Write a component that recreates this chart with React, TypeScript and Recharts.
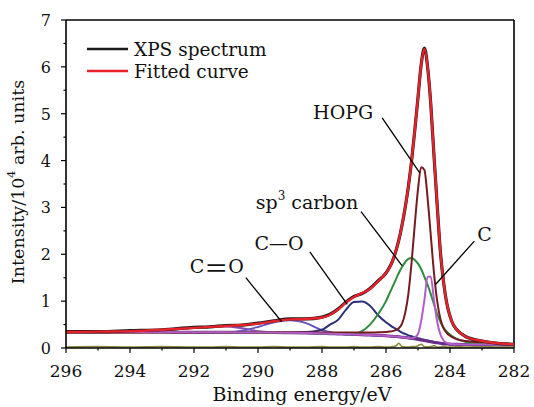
import React from "react";
import {
  Legend,
  Line,
  LineChart,
  ReferenceDot,
  ReferenceLine,
  XAxis,
  YAxis,
} from "recharts";

// binding energy grid (eV), denser around the C 1s peak
const energy = [
  296, 295, 294, 293, 292, 291.5, 291, 290.5, 290, 289.5, 289, 288.5, 288, 287.75, 287.5, 287.25,
  287, 286.75, 286.5, 286.25, 286, 285.9, 285.8, 285.7, 285.6, 285.5, 285.4, 285.3, 285.2, 285.1,
  285, 284.9, 284.8, 284.7, 284.6, 284.5, 284.4, 284.3, 284.2, 284.1, 284, 283.9, 283.8, 283.5, 283,
  282.5, 282,
];

const spectrum = [
  0.35, 0.35, 0.37, 0.39, 0.44, 0.45, 0.48, 0.49, 0.53, 0.58, 0.62, 0.62, 0.66, 0.72, 0.83, 0.98,
  1.1, 1.16, 1.27, 1.43, 1.6, 1.71, 1.85, 2.05, 2.3, 2.62, 3.0, 3.45, 4.0, 4.65, 5.35, 6.05, 6.4,
  6.0, 5.2, 4.1, 3.05, 2.05, 1.4, 0.95, 0.68, 0.5, 0.4, 0.24, 0.15, 0.1, 0.08,
];

const fitted = [
  0.34, 0.35, 0.36, 0.39, 0.43, 0.45, 0.47, 0.49, 0.52, 0.57, 0.61, 0.62, 0.65, 0.71, 0.82, 0.97,
  1.09, 1.17, 1.26, 1.42, 1.6, 1.7, 1.85, 2.05, 2.3, 2.62, 3.0, 3.45, 4.0, 4.65, 5.35, 6.05, 6.38,
  6.0, 5.2, 4.1, 3.05, 2.05, 1.4, 0.95, 0.68, 0.5, 0.4, 0.24, 0.15, 0.1, 0.08,
];

const hopg = [
  0.33, 0.33, 0.33, 0.33, 0.33, 0.33, 0.33, 0.33, 0.33, 0.33, 0.33, 0.33, 0.33, 0.33, 0.33, 0.33,
  0.33, 0.33, 0.33, 0.335, 0.34, 0.35, 0.36, 0.38, 0.42, 0.52, 0.75, 1.16, 1.83, 2.64, 3.39, 3.86,
  3.8, 3.2, 2.4, 1.6, 1.0, 0.62, 0.42, 0.32, 0.26, 0.22, 0.19, 0.15, 0.12, 0.1, 0.09,
];

const sp3 = [
  0.34, 0.34, 0.34, 0.34, 0.335, 0.335, 0.335, 0.33, 0.33, 0.33, 0.325, 0.32, 0.31, 0.305, 0.3,
  0.295, 0.3, 0.36, 0.5, 0.72, 1.0, 1.15, 1.3, 1.45, 1.6, 1.73, 1.83, 1.9, 1.92, 1.88, 1.8, 1.68,
  1.52, 1.35, 1.15, 0.93, 0.72, 0.56, 0.43, 0.35, 0.29, 0.24, 0.2, 0.13, 0.09, 0.075, 0.07,
];

const cSingleO = [
  0.34, 0.34, 0.34, 0.34, 0.335, 0.335, 0.335, 0.33, 0.33, 0.33, 0.33, 0.34, 0.39, 0.5, 0.6, 0.82,
  0.98, 0.99, 0.9, 0.7, 0.55, 0.5, 0.45, 0.41, 0.37, 0.33, 0.3, 0.27, 0.25, 0.23, 0.21, 0.19,
  0.175, 0.16, 0.145, 0.13, 0.115, 0.105, 0.095, 0.088, 0.082, 0.08, 0.078, 0.076, 0.074, 0.072,
  0.07,
];

const cDoubleO = [
  0.34, 0.34, 0.34, 0.34, 0.335, 0.335, 0.34, 0.37, 0.45, 0.55, 0.59, 0.53, 0.38, 0.34, 0.31, 0.3,
  0.29, 0.285, 0.275, 0.27, 0.26, 0.255, 0.25, 0.245, 0.24, 0.23, 0.225, 0.215, 0.205, 0.195,
  0.185, 0.17, 0.16, 0.145, 0.135, 0.12, 0.11, 0.1, 0.09, 0.085, 0.08, 0.08, 0.078, 0.076, 0.074,
  0.072, 0.07,
];

const shakeUp = [
  0.34, 0.34, 0.35, 0.38, 0.43, 0.455, 0.46, 0.42, 0.36, 0.335, 0.325, 0.32, 0.31, 0.305, 0.3,
  0.295, 0.29, 0.285, 0.275, 0.27, 0.26, 0.255, 0.25, 0.245, 0.24, 0.23, 0.225, 0.215, 0.205,
  0.195, 0.185, 0.17, 0.16, 0.145, 0.135, 0.12, 0.11, 0.1, 0.09, 0.085, 0.08, 0.08, 0.078, 0.076,
  0.074, 0.072, 0.07,
];

const cPeak = [
  0.34, 0.34, 0.34, 0.34, 0.335, 0.335, 0.335, 0.33, 0.33, 0.33, 0.325, 0.32, 0.31, 0.305, 0.3,
  0.295, 0.29, 0.285, 0.275, 0.27, 0.26, 0.255, 0.25, 0.245, 0.24, 0.23, 0.225, 0.215, 0.21, 0.23,
  0.3, 0.58, 1.02, 1.52, 1.52, 1.02, 0.56, 0.29, 0.16, 0.11, 0.09, 0.08, 0.078, 0.076, 0.074,
  0.072, 0.07,
];

const background = [
  0.34, 0.34, 0.34, 0.34, 0.335, 0.335, 0.335, 0.33, 0.33, 0.33, 0.325, 0.32, 0.31, 0.305, 0.3,
  0.295, 0.29, 0.285, 0.275, 0.27, 0.26, 0.255, 0.25, 0.245, 0.24, 0.23, 0.225, 0.215, 0.205,
  0.195, 0.185, 0.17, 0.16, 0.145, 0.135, 0.12, 0.11, 0.1, 0.09, 0.085, 0.08, 0.08, 0.078, 0.076,
  0.074, 0.072, 0.07,
];

const residual = [
  0.02, 0.03, 0.02, 0.03, 0.02, 0.02, 0.03, 0.02, 0.02, 0.03, 0.02, 0.02, 0.03, 0.02, 0.02, 0.02,
  0.03, 0.02, 0.02, 0.03, 0.02, 0.02, 0.03, 0.04, 0.1, 0.03, 0.02, 0.02, 0.03, 0.03, 0.05, 0.08,
  0.03, 0.02, 0.03, 0.05, 0.02, 0.02, 0.04, 0.02, 0.02, 0.02, 0.03, 0.02, 0.03, 0.02, 0.02,
];

const xTicks = [296, 295, 294, 293, 292, 291, 290, 289, 288, 287, 286, 285, 284, 283, 282];
const xLabels = [296, 294, 292, 290, 288, 286, 284, 282];
const yTicks = [0, 0.5, 1, 1.5, 2, 2.5, 3, 3.5, 4, 4.5, 5, 5.5, 6, 6.5, 7];
const yLabels = [0, 1, 2, 3, 4, 5, 6, 7];

const data = energy.map((e, i) => ({
  e,
  spectrum: spectrum[i],
  fitted: fitted[i],
  hopg: hopg[i],
  sp3: sp3[i],
  cSingleO: cSingleO[i],
  cDoubleO: cDoubleO[i],
  shakeUp: shakeUp[i],
  cPeak: cPeak[i],
  background: background[i],
  residual: residual[i],
}));

const FONT = "DejaVu Serif";

function XTick({ x, y, payload }: any) {
  const major = xLabels.includes(payload.value);
  return (
    <g>
      <line x1={x} x2={x} y1={y} y2={y + (major ? 5 : 2.5)} stroke="#000" strokeWidth={1.2} />
      {major && (
        <text x={x} y={y + 29} textAnchor="middle" fontSize={17} fontFamily={FONT} fill="#111">
          {payload.value}
        </text>
      )}
    </g>
  );
}

function YTick({ x, y, payload }: any) {
  const major = yLabels.includes(payload.value);
  return (
    <g>
      <line x1={x} x2={x - (major ? 5 : 2.5)} y1={y} y2={y} stroke="#000" strokeWidth={1.2} />
      {major && (
        <text x={x - 15} y={y + 6} textAnchor="end" fontSize={16} fontFamily={FONT} fill="#111">
          {payload.value}
        </text>
      )}
    </g>
  );
}

function label(text: React.ReactNode) {
  return (p: any) => (
    <text
      x={p.cx}
      y={p.cy}
      textAnchor="middle"
      dominantBaseline="central"
      fontSize={19}
      fontFamily={FONT}
      fill="#111"
    >
      {text}
    </text>
  );
}

function LegendBox() {
  const rows = [
    { name: "XPS spectrum", color: "#1a1a1a" },
    { name: "Fitted curve", color: "#e8222a" },
  ];
  return (
    <div style={{ fontFamily: FONT, fontSize: 18.5, color: "#111" }}>
      {rows.map((r) => (
        <div key={r.name} style={{ display: "flex", alignItems: "center", height: 22 }}>
          <svg width={47} height={22}>
            <line x1={0} x2={41} y1={11} y2={11} stroke={r.color} strokeWidth={2.5} />
          </svg>
          <span>{r.name}</span>
        </div>
      ))}
    </div>
  );
}

const leader = { stroke: "#000", strokeWidth: 1.3 };

export default function App() {
  return (
    <div style={{ position: "absolute", left: 0, top: 0, background: "#fff" }}>
      <LineChart width={534} height={407} data={data} margin={{ top: 20, right: 20, bottom: 0, left: 0 }}>
        <XAxis
          dataKey="e"
          type="number"
          domain={[282, 296]}
          reversed
          ticks={xTicks}
          interval={0}
          tick={<XTick />}
          tickLine={false}
          tickSize={0}
          tickMargin={0}
          height={59}
          axisLine={{ stroke: "#000", strokeWidth: 1.6 }}
          label={{
            content: () => (
              <text x={302} y={401} textAnchor="middle" fontSize={19} fontFamily={FONT} fill="#111">
                Binding energy/eV
              </text>
            ),
          }}
        />
        <YAxis
          type="number"
          domain={[0, 7]}
          ticks={yTicks}
          interval={0}
          tick={<YTick />}
          tickLine={false}
          tickSize={0}
          tickMargin={0}
          width={66}
          axisLine={{ stroke: "#000", strokeWidth: 1.6 }}
          label={{
            content: () => (
              <text
                x={18}
                y={182}
                transform="rotate(-90 18 182)"
                textAnchor="middle"
                dominantBaseline="central"
                fontSize={17.5}
                fontFamily={FONT}
                fill="#111"
              >
                Intensity/10
                <tspan dy={-7} fontSize={11}>4</tspan>
                <tspan dy={7}> arb. units</tspan>
              </text>
            ),
          }}
        />
        <ReferenceLine x={282} stroke="#000" strokeWidth={1.6} />
        <ReferenceLine y={7} stroke="#000" strokeWidth={1.6} />

        <Line dataKey="residual" type="monotone" stroke="#8c8a3a" strokeWidth={1.6} dot={false} isAnimationActive={false} />
        <Line dataKey="shakeUp" type="monotone" stroke="#8a4aa8" strokeWidth={2} dot={false} isAnimationActive={false} />
        <Line dataKey="cDoubleO" type="monotone" stroke="#6656c0" strokeWidth={2} dot={false} isAnimationActive={false} />
        <Line dataKey="cSingleO" type="monotone" stroke="#2c2f78" strokeWidth={2} dot={false} isAnimationActive={false} />
        <Line dataKey="background" type="monotone" stroke="#6b2d8a" strokeWidth={3} dot={false} isAnimationActive={false} />
        <Line dataKey="sp3" type="monotone" stroke="#2e8b3e" strokeWidth={2} dot={false} isAnimationActive={false} />
        <Line dataKey="hopg" type="monotone" stroke="#741c1f" strokeWidth={2} dot={false} isAnimationActive={false} />
        <Line dataKey="cPeak" type="monotone" stroke="#b35ec6" strokeWidth={2} dot={false} isAnimationActive={false} />
        <Line dataKey="spectrum" type="monotone" stroke="#1a1a1a" strokeWidth={3.2} dot={false} isAnimationActive={false} />
        <Line dataKey="fitted" type="monotone" stroke="#e8222a" strokeWidth={2.4} dot={false} isAnimationActive={false} />

        <ReferenceLine segment={[{ x: 286.12, y: 4.91 }, { x: 284.94, y: 3.73 }]} {...leader} />
        <ReferenceLine segment={[{ x: 286.78, y: 2.91 }, { x: 285.5, y: 1.76 }]} {...leader} />
        <ReferenceLine segment={[{ x: 283.24, y: 2.28 }, { x: 284.46, y: 1.35 }]} {...leader} />
        <ReferenceLine segment={[{ x: 288.38, y: 2.05 }, { x: 287.21, y: 0.93 }]} {...leader} />
        <ReferenceLine segment={[{ x: 290.38, y: 1.5 }, { x: 289.26, y: 0.56 }]} {...leader} />

        <ReferenceDot x={287.34} y={5.04} r={0} shape={label("HOPG")} />
        <ReferenceDot
          x={288.47}
          y={3.11}
          r={0}
          shape={label(
            <>
              sp<tspan dy={-6} fontSize={12}>3</tspan>
              <tspan dy={6}> carbon</tspan>
            </>
          )}
        />
        <ReferenceDot x={282.92} y={2.43} r={0} shape={label("C")} />
        <ReferenceDot x={289.34} y={2.24} r={0} shape={label("C\u2014O")} />
        <ReferenceDot
          x={291.29}
          y={1.745}
          r={0}
          shape={label(
            <>
              C<tspan fontFamily="Noto Sans CJK SC" fontSize={24}>{"\uFF1D"}</tspan>O
            </>
          )}
        />

        <Legend
          layout="horizontal"
          verticalAlign="middle"
          align="center"
          wrapperStyle={{ top: 38, left: 87, width: 240 }}
          content={() => <LegendBox />}
        />
      </LineChart>
    </div>
  );
}
